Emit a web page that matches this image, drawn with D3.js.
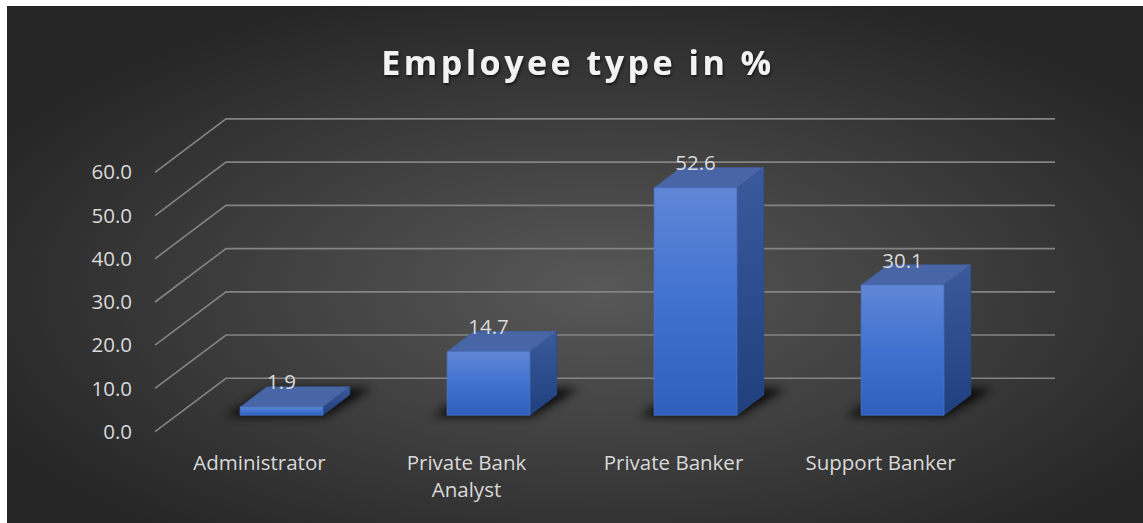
<!DOCTYPE html>
<html>
<head>
<meta charset="utf-8">
<script src="https://cdn.jsdelivr.net/npm/d3@7"></script>
<style>
html,body{margin:0;padding:0;background:#ffffff;}
svg{display:block;}
</style>
</head>
<body>
<svg id="chart" width="1143" height="523"></svg>
<script>
const title = "Employee type in %";
const categories = ["Administrator", "Private Bank Analyst", "Private Banker", "Support Banker"];
const values = [1.9, 14.7, 52.6, 30.1];
const yTicks = [0, 10, 20, 30, 40, 50, 60];

const W = 1143, H = 523;
const FONT = "'Open Sans', sans-serif";
const FS = 20.5;
const svg = d3.select("#chart");
const defs = svg.append("defs");

// background gradient
const bg = defs.append("radialGradient").attr("id", "bg")
  .attr("cx", 0.52).attr("cy", 0.55).attr("r", 0.6);
bg.append("stop").attr("offset", 0).attr("stop-color", "#585858");
bg.append("stop").attr("offset", 1).attr("stop-color", "#262626");
svg.append("rect").attr("x", 7).attr("y", 6).attr("width", W - 7).attr("height", H - 6).attr("fill", "url(#bg)");

// bar gradients
const gFront = defs.append("linearGradient").attr("id", "gFront").attr("x1", 0).attr("y1", 0).attr("x2", 0).attr("y2", 1);
gFront.append("stop").attr("offset", 0).attr("stop-color", "#6186d6");
gFront.append("stop").attr("offset", 0.5).attr("stop-color", "#3f72d0");
gFront.append("stop").attr("offset", 1).attr("stop-color", "#2e5fbe");
const gSide = defs.append("linearGradient").attr("id", "gSide").attr("x1", 0).attr("y1", 0).attr("x2", 0).attr("y2", 1);
gSide.append("stop").attr("offset", 0).attr("stop-color", "#3a5a9c");
gSide.append("stop").attr("offset", 1).attr("stop-color", "#1f3f7e");

const blur = defs.append("filter").attr("id", "shadowBlur").attr("x", "-50%").attr("y", "-50%").attr("width", "200%").attr("height", "200%");
blur.append("feGaussianBlur").attr("stdDeviation", 5);

const tShadow = defs.append("filter").attr("id", "tShadow").attr("x", "-10%").attr("y", "-30%").attr("width", "120%").attr("height", "160%");
tShadow.append("feDropShadow").attr("dx", 1).attr("dy", 2).attr("stdDeviation", 1.5).attr("flood-color", "#000").attr("flood-opacity", 0.6);

// geometry
const y = d3.scaleLinear().domain([0, 60]).range([431.7, 172.3]);
const depth = {dx: 71, dy: -53.4};
const gridLeft = 155, gridRight = 1055;
const x = d3.scaleBand().domain(categories).range([156, 984]).paddingInner(0.6).paddingOuter(0.3);
const z0 = 0.31, z1 = 0.69;
const P = (px, v, z) => [px + z * depth.dx, y(v) + z * depth.dy];

// gridlines
svg.append("g").selectAll("path").data(yTicks).join("path")
  .attr("d", v => {
    const a = P(gridLeft, v, 0), b = P(gridLeft, v, 1);
    return `M${a[0]},${a[1]}L${b[0]},${b[1]}L${gridRight},${b[1]}`;
  })
  .attr("fill", "none").attr("stroke", "#848484").attr("stroke-width", 1.6);

// y labels
svg.append("g").selectAll("text").data(yTicks).join("text")
  .attr("x", 132).attr("y", v => y(v)).attr("dy", "0.35em")
  .attr("text-anchor", "end")
  .attr("font-family", FONT).attr("font-size", FS)
  .attr("fill", "#d9d9d9")
  .text(v => d3.format(".1f")(v));

// bars
const bars = svg.append("g").selectAll("g").data(categories).join("g");
bars.each(function(c, i) {
  const g = d3.select(this);
  const v = values[i];
  const xl = x(c), xr = x(c) + x.bandwidth();
  const poly = pts => pts.map(p => p.join(",")).join(" ");
  // shadow on floor
  const sh = [P(xl - 14, 0, z0 - 0.02), P(xr + 4, 0, z0 - 0.02), P(xr + 14, 0, z1 + 0.12), P(xl - 4, 0, z1 + 0.12)];
  g.append("polygon").attr("points", poly(sh)).attr("fill", "#000").attr("opacity", 0.85).attr("filter", "url(#shadowBlur)");
  const fTL = P(xl, v, z0), fTR = P(xr, v, z0), fBR = P(xr, 0, z0), fBL = P(xl, 0, z0);
  const bTL = P(xl, v, z1), bTR = P(xr, v, z1), bBR = P(xr, 0, z1);
  g.append("polygon").attr("points", poly([fTR, bTR, bBR, fBR])).attr("fill", "url(#gSide)")
    .attr("stroke", "#2a4a8a").attr("stroke-width", 0.6);
  g.append("polygon").attr("points", poly([fTL, fTR, bTR, bTL])).attr("fill", "#4865a6")
    .attr("stroke", "#3d5c9e").attr("stroke-width", 0.6);
  g.append("polygon").attr("points", poly([fTL, fTR, fBR, fBL])).attr("fill", "url(#gFront)")
    .attr("stroke", "#4a74c6").attr("stroke-width", 0.8);
  g.append("text")
    .attr("x", (fTL[0] + fTR[0]) / 2).attr("y", fTL[1] - 17.5)
    .attr("text-anchor", "middle")
    .attr("font-family", FONT).attr("font-size", FS)
    .attr("fill", "#d9d9d9")
    .text(d3.format(".1f")(v));
});

// category labels (wrapped)
const catG = svg.append("g");
categories.forEach(c => {
  const cx = x(c) + x.bandwidth() / 2;
  const t = catG.append("text")
    .attr("x", cx).attr("y", 470)
    .attr("text-anchor", "middle")
    .attr("font-family", FONT).attr("font-size", FS)
    .attr("fill", "#d9d9d9");
  const words = c.split(" ");
  let line = [];
  let ts = t.append("tspan").attr("x", cx).attr("dy", 0);
  words.forEach(w => {
    line.push(w);
    ts.text(line.join(" "));
    if (ts.node().getComputedTextLength() > 185 && line.length > 1) {
      line.pop();
      ts.text(line.join(" "));
      line = [w];
      ts = t.append("tspan").attr("x", cx).attr("dy", 27).text(w);
    }
  });
});

// title
svg.append("text")
  .attr("x", 578).attr("y", 75)
  .attr("text-anchor", "middle")
  .attr("font-family", FONT).attr("font-weight", "bold")
  .attr("font-size", 34).attr("letter-spacing", 3.5)
  .attr("fill", "#f2f2f2")
  .attr("filter", "url(#tShadow)")
  .text(title);
</script>
</body>
</html>
